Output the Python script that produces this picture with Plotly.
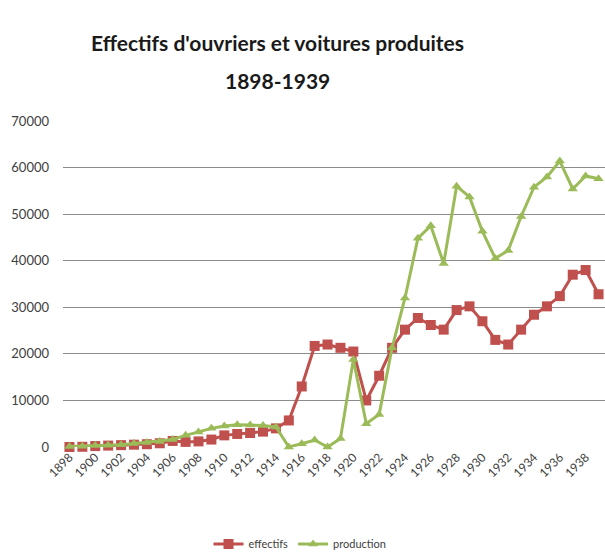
import plotly.graph_objects as go

years = list(range(1898, 1940))
effectifs = [0, 50, 200, 300, 400, 500, 600, 800, 1300, 1100, 1200, 1600,
             2500, 2800, 3000, 3300, 4000, 5700, 13000, 21700, 22000, 21300,
             20500, 10000, 15300, 21300, 25200, 27700, 26200, 25200, 29400, 30200,
             27000, 23000, 22000, 25200, 28400, 30200, 32400, 37000, 38000, 32800]
production = [100, 150, 300, 350, 500, 750, 950, 1200, 1600, 2500, 3200, 4000,
              4500, 4800, 4700, 4600, 4300, 0, 700, 1500, 0, 1800,
              18800, 5000, 7000, 21300, 32000, 44800, 47500, 39400, 56000, 53700,
              46300, 40500, 42200, 49500, 55800, 58000, 61400, 55400, 58200, 57600]
tick_years = list(range(1898, 1940, 2))
y_ticks = [0, 10000, 20000, 30000, 40000, 50000, 60000, 70000]
title_lines = ["Effectifs d'ouvriers et voitures produites", "1898-1939"]

FONT = "Lato, sans-serif"

fig = go.Figure()
fig.add_trace(go.Scatter(
    x=years, y=effectifs, name="effectifs", mode="lines+markers",
    line=dict(color="#C0504D", width=3),
    marker=dict(symbol="square", size=10, color="#C0504D"),
    cliponaxis=False,
))
fig.add_trace(go.Scatter(
    x=years, y=production, name="production", mode="lines+markers",
    line=dict(color="#9BBB59", width=3),
    marker=dict(symbol="triangle-up", size=9, color="#9BBB59"),
    cliponaxis=False,
))

H0, H1 = 450, 121
def ypaper(px):
    return (H0 - px) / (H0 - H1)

for txt, ypx in zip(title_lines, [42, 80]):
    fig.add_annotation(
        text=f"<b>{txt}</b>", xref="paper", yref="paper",
        x=(277 - 63) / (605 - 63), y=ypaper(ypx), xanchor="center", yanchor="middle",
        showarrow=False, font=dict(size=21, color="#1a1a1a", family=FONT),
    )

fig.update_layout(
    width=605, height=559,
    paper_bgcolor="white", plot_bgcolor="white",
    margin=dict(l=63, r=0, t=121, b=109),
    font=dict(family=FONT, color="#404040"),
    showlegend=True,
    legend=dict(orientation="h", x=(300 - 63) / (605 - 63), xanchor="center",
                y=ypaper(548), yanchor="middle",
                font=dict(size=11, color="#404040")),
    xaxis=dict(
        range=[1897.5, 1939.5], tickvals=tick_years, ticktext=[str(t) for t in tick_years],
        tickangle=-45, showgrid=False, zeroline=False, showline=False, automargin=False,
        tickfont=dict(size=12, color="#404040"), ticks="",
    ),
    yaxis=dict(
        range=[0, 70000], tickvals=y_ticks, ticktext=[str(t) for t in y_ticks],
        showgrid=True, gridcolor="#8c8c8c", gridwidth=1, zeroline=False, showline=False,
        automargin=False,
        tickfont=dict(size=13, color="#404040"), ticks="", ticklabelstandoff=13,
    ),
)
fig.write_html(
    "out.html",
    config={"displayModeBar": False},
    post_script="document.body.style.margin='0';document.body.style.overflow='hidden';",
)
